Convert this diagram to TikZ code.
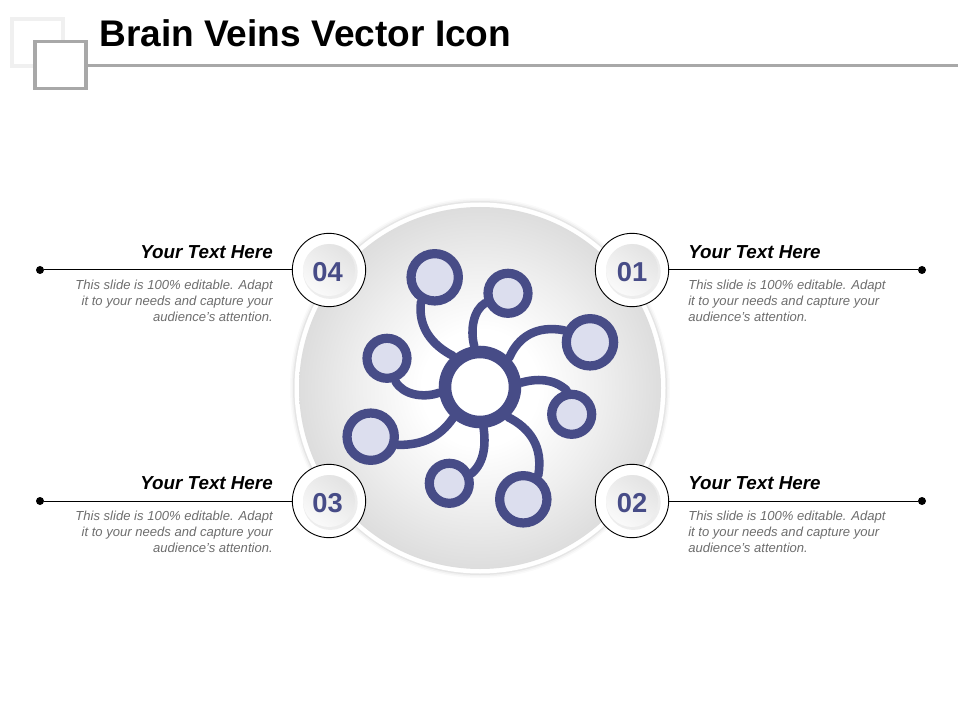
\documentclass[tikz,border=0pt]{standalone}
\usepackage{fontspec}
\setmainfont{Liberation Sans}
\definecolor{veinblue}{HTML}{474C87}
\definecolor{veinfill}{HTML}{DCDEEE}
\definecolor{bodygrey}{HTML}{6E6E6E}
\definecolor{rulegrey}{HTML}{A8A8A8}
\definecolor{discedge}{HTML}{DDDDDD}
\definecolor{discmid}{HTML}{EEEEEE}
\pgfdeclareradialshading{discshade}{\pgfpoint{0bp}{0bp}}{color(0bp)=(white);color(8bp)=(white);color(17bp)=(discmid);color(25bp)=(discedge);color(50bp)=(discedge)}
\begin{document}
\begin{tikzpicture}[x=0.75pt,y=-0.75pt,
  bigsat/.style={circle,draw=veinblue,fill=veinfill,line width=6.9pt,minimum size=35.5pt,inner sep=0pt},
  smallsat/.style={circle,draw=veinblue,fill=veinfill,line width=6.9pt,minimum size=30pt,inner sep=0pt},
  hubring/.style={circle,draw=veinblue,fill=white,line width=9.4pt,minimum size=52.5pt,inner sep=0pt},
  vein/.style={draw=veinblue,line width=6.4pt,line cap=round},
  badgeouter/.style={circle,draw=black,fill=white,line width=0.7pt,minimum size=55pt,inner sep=0pt},
  badgeinner/.style={circle,inner sep=0pt,minimum size=39pt,top color=black!11,bottom color=black!2,shading angle=-35},
  badgeshade/.style={circle,inner sep=0pt,minimum size=41pt,fill=black!7},
  badgenum/.style={inner sep=0pt,font=\bfseries\fontsize{20.5}{20}\selectfont,text=veinblue},
  head/.style={font=\bfseries\itshape\fontsize{14.1}{16}\selectfont,text=black,inner sep=0pt},
  bodytext/.style={font=\itshape\fontsize{9.8}{11.9}\selectfont,text=bodygrey,inner sep=0pt},
  leader/.style={draw=black,line width=0.75pt},
  dot/.style={circle,fill=black,inner sep=0pt,minimum size=6pt}]
\useasboundingbox (0,0) rectangle (960,720);
\fill[white] (0,0) rectangle (960,720);
% header
\node[draw=black!6,line width=3pt,minimum width=38pt,minimum height=35.5pt,inner sep=0pt] (sqback) at (37.5,42.5) {};
\node[draw=rulegrey,fill=white,line width=2.7pt,minimum width=38pt,minimum height=35.5pt,inner sep=0pt] (sqfront) at (60.5,65) {};
\coordinate (ruleend) at (958,65.5);
\draw[rulegrey,line width=2.2pt] (sqfront.east |- ruleend) -- (ruleend);
\node[anchor=base west,inner sep=0pt,font=\bfseries\fontsize{27.8}{30}\selectfont] (title) at (99,47) {Brain Veins Vector Icon};
% big disc
\foreach \r/\o in {190/.02,188.5/.03,187/.05}{\fill[black,opacity=\o] (480,388) circle[radius=\r];}
\fill[white] (480,388) circle[radius=185.5];
\shade[shading=discshade] (480,388) circle[radius=181];
% hub and satellites
\node[hubring] (hub) at (480,387) {};
\node[bigsat] (s1) at (434.7,277.3) {};
\node[smallsat] (s2) at (508,293.3) {};
\node[bigsat] (s3) at (590,342.3) {};
\node[smallsat] (s4) at (571.7,414.3) {};
\node[bigsat] (s5) at (523.3,499.3) {};
\node[smallsat] (s6) at (449.3,483.3) {};
\node[bigsat] (s7) at (370.7,436.7) {};
\node[smallsat] (s8) at (387,358.3) {};
\draw[vein] (s1.241) .. controls (417.7,326.7) and (431.7,345) .. (hub.131);
\draw[vein] (s2.203) .. controls (473.3,310) and (470,330) .. (hub.98);
\draw[vein] (s3.155) .. controls (536.7,325) and (518.3,336.7) .. (hub.45);
\draw[vein] (s4.102) .. controls (553.3,378.3) and (536.7,378.3) .. (hub.6);
\draw[vein] (s5.58) .. controls (543.3,446.7) and (530,428.3) .. (hub.-47);
\draw[vein] (s6.24) .. controls (485,461.7) and (485.7,443.3) .. (hub.-85);
\draw[vein] (s7.-17) .. controls (423.3,445) and (440,436.7) .. (hub.229);
\draw[vein] (s8.-70) .. controls (403.3,395) and (423.3,398.3) .. (hub.188);
% badges
\foreach \n/\x/\y/\t/\dx in {b1/632/270/01/0,b2/632/501/02/0,b3/329/501/03/-1,b4/329/270/04/-1}{
  \node[badgeouter] (\n) at (\x,\y) {};
  \node[badgeshade] (\n s) at ([xshift=1pt,yshift=-1.2pt]\n.center) {};
  \node[badgeinner] (\n i) at (\n.center) {};
  \node[badgenum] (\n n) at ([xshift=\dx pt,yshift=-1.7pt]\n.center) {\t};
}
% leaders
\node[dot] (d1) at (922,270) {};
\node[dot] (d2) at (922,501) {};
\node[dot] (d3) at (40,501) {};
\node[dot] (d4) at (40,270) {};
\draw[leader] (b1) -- (d1);
\draw[leader] (b2) -- (d2);
\draw[leader] (b3) -- (d3);
\draw[leader] (b4) -- (d4);
% texts
\node[head,anchor=base west] (h1) at (688,258.5) {Your Text Here};
\node[head,anchor=base west] (h2) at (688,489.5) {Your Text Here};
\node[head,anchor=base east] (h3) at (273,489.5) {Your Text Here};
\node[head,anchor=base east] (h4) at (273,258.5) {Your Text Here};
\node[bodytext,anchor=north west,align=left] (t1) at (688,280) {This slide is 100\% editable. Adapt\\it to your needs and capture your\\audience's attention.};
\node[bodytext,anchor=north west,align=left] (t2) at (688,511) {This slide is 100\% editable. Adapt\\it to your needs and capture your\\audience's attention.};
\node[bodytext,anchor=north east,align=right] (t3) at (273,511) {This slide is 100\% editable. Adapt\\it to your needs and capture your\\audience's attention.};
\node[bodytext,anchor=north east,align=right] (t4) at (273,280) {This slide is 100\% editable. Adapt\\it to your needs and capture your\\audience's attention.};
\end{tikzpicture}
\end{document}
